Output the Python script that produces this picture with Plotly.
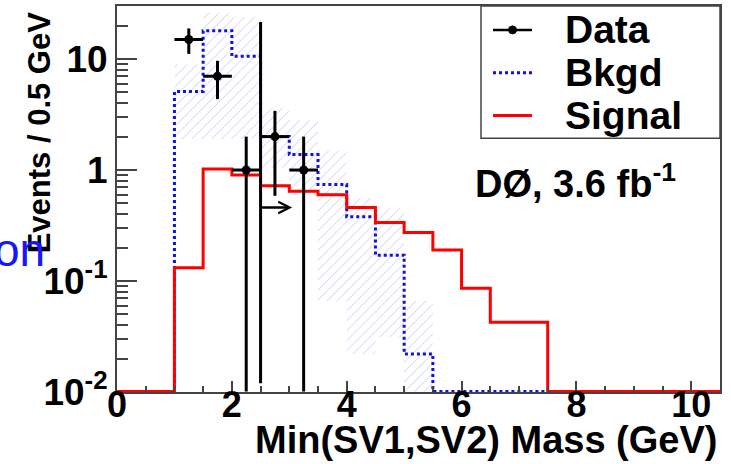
import numpy as np
import plotly.graph_objects as go

# ---- histogram content (0.5 GeV bins from 0 to 10.5 GeV) ----
bin_edges = [i * 0.5 for i in range(22)]
bkgd = [0, 0, 5.1, 18, 10.6, 2.0, 1.38, 0.74, 0.38, 0.171, 0.022,
        0, 0, 0, 0, 0, 0, 0, 0, 0, 0]
signal = [0, 0, 0.132, 1.02, 0.90, 0.72, 0.645, 0.60, 0.46, 0.336, 0.273,
          0.19, 0.086, 0.0426, 0.0426, 0, 0, 0, 0, 0, 0]

# background uncertainty band, bins from 1.0 to 5.5 GeV
band_edges = [1.0, 1.5, 2.0, 2.5, 3.0, 3.5, 4.0, 4.5, 5.0, 5.5]
band_upper = [9.0, 26, 24, 3.6, 2.8, 1.5, 0.56, 0.45, 0.066]
band_lower = [1.9, 1.9, 1.9, 1.05, 0.6, 0.066, 0.022, 0.031, 0.0101]

# observed events
data_x = [1.25, 1.75, 2.25, 2.75, 3.25]
data_n = [15, 7, 1, 2, 1]
data_xerr = [0.25, 0.25, 0.25, 0.25, 0.25]

# selection cut
cut_x = 2.5
cut_top = 21.6
cut_bottom = 0.012
arrow_end = 3.05
arrow_y = 0.46

y_floor = 0.0101
y_range = [-2, 1.478]
x_range = [0, 10.5]
x_ticks = [0, 2, 4, 6, 8, 10]
y_ticks = [0.01, 0.1, 1, 10]
y_ticktext = ["10<sup>-2</sup>", "10<sup>-1</sup>", "1", "10"]

FONT = "Liberation Sans"
AXC = "#444444"


def step(vals):
    v = [max(x, y_floor) for x in vals]
    return v + [v[-1]]


fig = go.Figure()

# hatched uncertainty band
fig.add_trace(go.Scatter(
    x=band_edges, y=band_lower + [band_lower[-1]], mode="lines",
    line=dict(width=0, shape="hv"), showlegend=False, hoverinfo="skip"))
fig.add_trace(go.Scatter(
    x=band_edges, y=band_upper + [band_upper[-1]], mode="lines",
    line=dict(width=0, shape="hv"), fill="tonexty",
    fillcolor="rgba(0,0,0,0)",
    fillpattern=dict(shape="/", fgcolor="rgba(90,105,230,0.65)",
                     bgcolor="rgba(0,0,0,0)", size=7, solidity=0.14),
    showlegend=False, hoverinfo="skip"))

# background histogram
fig.add_trace(go.Scatter(
    x=bin_edges, y=step(bkgd), mode="lines", name="Bkgd",
    line=dict(color="#1010e8", width=3, dash="dot", shape="hv"),
    showlegend=False))

# signal histogram
fig.add_trace(go.Scatter(
    x=bin_edges, y=step(signal), mode="lines", name="Signal",
    line=dict(color="#ff0000", width=3, shape="hv"),
    showlegend=False))

# cut line
fig.add_trace(go.Scatter(
    x=[cut_x, cut_x], y=[cut_bottom, cut_top], mode="lines",
    line=dict(color="black", width=3), showlegend=False, hoverinfo="skip"))

# data points with Poisson errors
err = [np.sqrt(n) for n in data_n]
err_lo = [min(e, n - y_floor) for e, n in zip(err, data_n)]
fig.add_trace(go.Scatter(
    x=data_x, y=data_n, mode="markers", name="Data",
    marker=dict(color="black", size=9),
    error_y=dict(type="data", array=err, arrayminus=err_lo,
                 color="black", thickness=3, width=0),
    error_x=dict(type="data", array=data_xerr, color="black",
                 thickness=3, width=0),
    showlegend=False))


def px(xp):
    return (xp - 117) / 603


def py(yp):
    return (392 - yp) / 388


annotations = [
    # arrow showing the accepted side of the cut
    dict(x=arrow_end, y=np.log10(arrow_y), ax=cut_x, ay=np.log10(arrow_y),
         xref="x", yref="y", axref="x", ayref="y", text="",
         showarrow=True, arrowhead=5, arrowsize=0.9, arrowwidth=2.5,
         arrowcolor="black"),
    dict(text="Events / 0.5 GeV", textangle=-90, xref="paper", yref="paper",
         x=px(39), y=py(131), xanchor="center", yanchor="middle",
         showarrow=False,
         font=dict(family=FONT, size=31, color="black", weight="bold")),
    dict(text="Min(SV1,SV2) Mass (GeV)", xref="paper", yref="paper",
         x=px(719), y=py(440), xanchor="right", yanchor="middle",
         showarrow=False,
         font=dict(family=FONT, size=38, color="black", weight="bold")),
    dict(text="DØ, 3.6 fb<sup>-1</sup>", xref="paper", yref="paper",
         x=px(473), y=py(180), xanchor="left", yanchor="middle",
         showarrow=False,
         font=dict(family=FONT, size=38, color="black", weight="bold")),
    dict(text="on", xref="paper", yref="paper",
         x=px(-8), y=py(249), xanchor="left", yanchor="middle",
         showarrow=False,
         font=dict(family=FONT, size=46, color="#1515ff")),
]

# legend
leg_rows = [("Data", 28), ("Bkgd", 71), ("Signal", 114)]
for label, yc in leg_rows:
    annotations.append(dict(
        text=label, xref="paper", yref="paper", x=px(563), y=py(yc),
        xanchor="left", yanchor="middle", showarrow=False,
        font=dict(family=FONT, size=39, color="black", weight="bold")))

shapes = [
    dict(type="rect", xref="paper", yref="paper", x0=px(481), x1=1.0,
         y0=py(137), y1=1.0, line=dict(color=AXC, width=1.5),
         fillcolor="white", layer="above"),
    dict(type="line", xref="paper", yref="paper", x0=px(493), x1=px(532),
         y0=py(28), y1=py(28), line=dict(color="black", width=2.5)),
    dict(type="circle", xref="paper", yref="paper", x0=px(508.5), x1=px(516.5),
         y0=py(32), y1=py(24), line=dict(color="black", width=1),
         fillcolor="black"),
    dict(type="line", xref="paper", yref="paper", x0=px(493), x1=px(532),
         y0=py(71), y1=py(71), line=dict(color="#1010e8", width=3, dash="dot")),
    dict(type="line", xref="paper", yref="paper", x0=px(493), x1=px(532),
         y0=py(114), y1=py(114), line=dict(color="#ff0000", width=3)),
]

minor_y = [k * 10.0 ** e for e in range(-2, 2) for k in range(2, 10)]

fig.update_layout(
    width=731, height=464,
    margin=dict(l=117, r=11, t=4, b=72),
    paper_bgcolor="white", plot_bgcolor="white",
    showlegend=False,
    annotations=annotations, shapes=shapes,
    xaxis=dict(
        range=x_range, tickmode="array", tickvals=x_ticks,
        ticks="inside", ticklen=11, tickwidth=1.5, tickcolor=AXC,
        ticklabelstandoff=-20,
        minor=dict(ticks="inside", ticklen=6, tickwidth=1.5, tickcolor=AXC,
                   dtick=0.5, showgrid=False),
        showgrid=False, zeroline=False, showline=True, linecolor=AXC,
        linewidth=2, mirror=True,
        tickfont=dict(family=FONT, size=36, color="black", weight="bold")),
    yaxis=dict(
        type="log", range=y_range, tickmode="array", tickvals=y_ticks,
        ticktext=y_ticktext,
        ticks="inside", ticklen=20, tickwidth=1.5, tickcolor=AXC,
        minor=dict(ticks="inside", ticklen=11, tickwidth=1.5, tickcolor=AXC,
                   tickmode="array", tickvals=minor_y, showgrid=False),
        showgrid=False, zeroline=False, showline=True, linecolor=AXC,
        linewidth=2, mirror=True,
        tickfont=dict(family=FONT, size=37, color="black", weight="bold")),
)

fig.write_html("out.html")
